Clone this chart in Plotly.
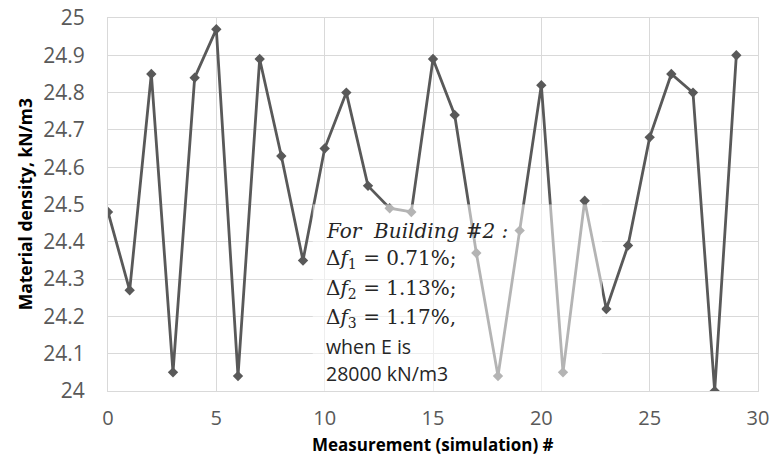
import plotly.graph_objects as go

# Measurement index and material density (kN/m3)
measurement = list(range(30))
density = [
    24.48, 24.27, 24.85, 24.05, 24.84, 24.97, 24.04, 24.89, 24.63, 24.35,
    24.65, 24.80, 24.55, 24.49, 24.48, 24.89, 24.74, 24.37, 24.04, 24.43,
    24.82, 24.05, 24.51, 24.22, 24.39, 24.68, 24.85, 24.80, 24.00, 24.90,
]

note_lines = [
    "<i>For  Building #2 :</i>",
    "Δ<i>f</i><sub>1</sub> = 0.71%;",
    "Δ<i>f</i><sub>2</sub> = 1.13%;",
    "Δ<i>f</i><sub>3</sub> = 1.17%,",
    "when E is",
    "28000 kN/m3",
]
note_y = [24.43, 24.355, 24.274, 24.196, 24.118, 24.048]
note_fonts = ["DejaVu Serif", "DejaVu Serif", "DejaVu Serif", "DejaVu Serif",
              "Open Sans", "Open Sans"]
note_sizes = [20, 20, 20, 20, 19.5, 19.5]

LINE = "#595959"
GRID = "#d9d9d9"

fig = go.Figure()
fig.add_trace(go.Scatter(
    x=measurement,
    y=density,
    mode="lines+markers",
    line=dict(color=LINE, width=2.8),
    marker=dict(symbol="diamond", size=8, color=LINE),
    showlegend=False,
))

# semi-transparent box behind the note
fig.add_shape(
    type="rect", xref="x", yref="y",
    x0=9.45, x1=22.8, y0=23.98, y1=24.5,
    fillcolor="white", opacity=0.55, line_width=0, layer="above",
)

for text, y, fam, sz in zip(note_lines, note_y, note_fonts, note_sizes):
    fig.add_annotation(
        x=9.95, y=y, xref="x", yref="y",
        text=text, showarrow=False, xanchor="left", yanchor="middle",
        font=dict(family=fam, size=sz, color="#262626"),
    )

# axis titles
fig.add_annotation(
    x=0.5, y=-0.143, xref="paper", yref="paper", yanchor="middle",
    text="<b>Measurement (simulation) #</b>", showarrow=False,
    font=dict(family="Open Sans", size=17, color="#000000"),
)
fig.add_annotation(
    x=-0.128, y=0.5, xref="paper", yref="paper", xanchor="center",
    text="<b>Material density, kN/m3</b>", showarrow=False, textangle=-90,
    font=dict(family="Open Sans", size=17.5, color="#000000"),
)

fig.update_layout(
    width=771,
    height=462,
    plot_bgcolor="white",
    paper_bgcolor="white",
    margin=dict(l=108, r=13, t=18, b=71),
    font=dict(family="Open Sans", color=LINE),
)
fig.update_xaxes(
    range=[0, 30], dtick=5, tick0=0, automargin=False,
    ticklabeloverflow="allow",
    showgrid=True, gridcolor=GRID, gridwidth=1,
    showline=True, mirror=True, linecolor=GRID, zeroline=False,
    ticks="outside", ticklen=9, tickcolor="rgba(0,0,0,0)",
    tickfont=dict(size=20, color=LINE),
)
fig.update_yaxes(
    range=[24, 25], dtick=0.1, tick0=24, automargin=False,
    ticklabeloverflow="allow",
    showgrid=True, gridcolor=GRID, gridwidth=1,
    showline=True, mirror=True, linecolor=GRID, zeroline=False,
    ticks="outside", ticklen=18, tickcolor="rgba(0,0,0,0)",
    tickfont=dict(size=21, color=LINE),
)

# drop the default page margin so the figure sits at the window corner
fig.write_html(
    "out.html",
    config={"displayModeBar": False},
    post_script="document.body.style.margin='0';",
)
